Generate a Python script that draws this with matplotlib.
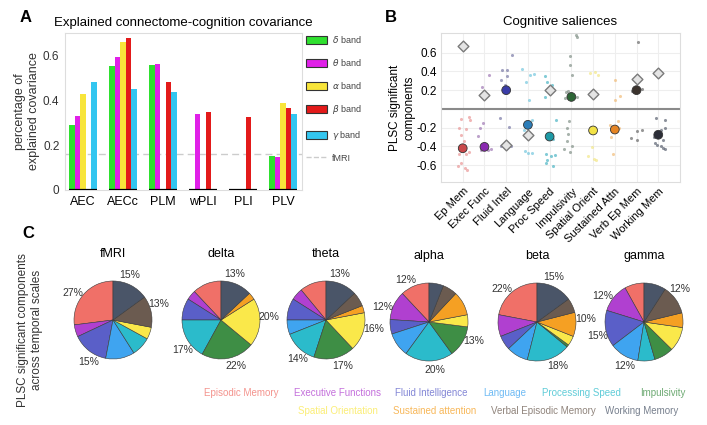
import numpy as np
import matplotlib.pyplot as plt
from matplotlib.patches import Patch
from matplotlib.lines import Line2D

plt.rcParams['font.family'] = ['Liberation Sans', 'DejaVu Sans']

# ---- panel A data
metrics = ["AEC", "AECc", "PLM", "wPLI", "PLI", "PLV"]
band_names = [r"$\delta$ band", r"$\theta$ band", r"$\alpha$ band", r"$\beta$ band", r"$\gamma$ band"]
band_colors = ["#2FE02F", "#E020E8", "#F8E53A", "#E31A1A", "#33C6F0"]
delta_cov = [0.29, 0.553, 0.557, 0, 0, 0.15]
theta_cov = [0.328, 0.595, 0.56, 0.337, 0, 0.147]
alpha_cov = [0.43, 0.658, 0, 0, 0, 0.39]
beta_cov = [0, 0.677, 0.482, 0.347, 0.327, 0.365]
gamma_cov = [0.48, 0.452, 0.435, 0, 0, 0.337]
fmri_cov = 0.16

# ---- panel B data
domains = ["Ep Mem", "Exec Func", "Fluid Intel", "Language", "Proc Speed",
           "Impulsivity", "Spatial Orient", "Sustained Attn", "Verb Ep Mem", "Working Mem"]
dom_colors = ["#F07068", "#B040D0", "#5A5FC8", "#3FA4F0", "#2BBBCB",
              "#3E8E45", "#FAE84A", "#F5A023", "#6B5B50", "#4A5568"]
mean_colors = ["#C9484A", "#8A2AB0", "#3A3CA8", "#2C7DB8", "#1E9AA6",
               "#2D6636", "#F2E246", "#E58422", "#3B332D", "#2C2E38"]
dot_colors = ["#E89090", "#9A70B0", "#7070A0", "#6CC4DC", "#40B0C0",
              "#7A8A80", "#F2E680", "#F0B870", "#606060", "#505868"]
mean_sal = [-0.42, -0.405, 0.2, -0.17, -0.295, 0.128, -0.23, -0.22, 0.2, -0.276]
fmri_sal = [0.67, 0.146, -0.38, -0.275, 0.2, np.nan, 0.164, np.nan, 0.315, 0.38]
band_off = [
    [-0.06, 0.28, 0.32, -0.15, 0.15, -0.06, 0.05, -0.15, 0.15, 0.3, -0.06, -0.2, 0.1, 0.2],
    [0.23, -0.1, -0.05, -0.2, -0.3, -0.15, 0.15, 0.3],
    [0.26, -0.18, 0.03, 0.05, -0.25, -0.05, -0.3, 0.15, -0.25, 0.2],
    [-0.25, 0.1, 0.28, -0.1, 0.05, -0.2, 0.2, -0.15, 0.0, 0.2],
    [-0.23, -0.14, 0.1, -0.23, 0.3, -0.15, 0.05, 0.23, -0.18, 0.14, -0.1, -0.14, 0.14],
    [0.22, 0.26, -0.05, -0.05, 0.05, -0.24, -0.14, -0.28, 0.28, -0.1, -0.2, -0.14, -0.2, 0.01, -0.32, -0.05],
    [-0.15, 0.1, 0.23, -0.1, -0.05, -0.25, 0.05, 0.15],
    [0, 0, 0.23, -0.23, 0.14, -0.18, -0.1, 0.2],
    [0.05, -0.23, 0.23, -0.25, 0, 0.23, 0.03],
    [-0.1, 0.3, 0.3, 0.14, -0.2, 0.23, -0.05, 0.14, 0.23, 0.3, -0.14],
]
band_sal = [
    [-0.11, -0.09, -0.12, -0.2, -0.21, -0.28, -0.34, -0.48, -0.48, -0.46, -0.575, -0.61, -0.63, -0.65],
    [0.36, 0.235, -0.15, -0.2, -0.29, -0.44, -0.44, -0.43],
    [0.57, 0.42, 0.42, 0.35, 0.31, 0.26, -0.1, -0.19, -0.4, -0.4],
    [0.43, 0.36, 0.37, 0.29, 0.1, -0.22, -0.12, -0.45, -0.47, -0.47],
    [0.35, 0.29, 0.25, 0.13, -0.115, -0.48, -0.5, -0.49, -0.575, -0.61, -0.54, -0.27, -0.32],
    [0.79, 0.77, 0.56, 0.47, 0.36, 0.18, 0.19, 0.12, 0.13, -0.13, -0.2, -0.27, -0.34, -0.395, -0.43, -0.456],
    [0.38, 0.39, 0.36, -0.19, -0.41, -0.5, -0.53, -0.55],
    [0.31, 0.1, 0.14, -0.17, -0.125, -0.3, -0.485, -0.2],
    [0.71, 0.19, 0.21, -0.31, -0.24, -0.22, -0.33],
    [-0.095, -0.12, -0.2, -0.23, -0.3, -0.33, -0.39, -0.4, -0.42, -0.43, -0.36],
]

# ---- panel C data (percent per domain, same order as domains)
scales = ["fMRI", "delta", "theta", "alpha", "beta", "gamma"]
fmri_pct = [27, 5, 15, 12, 8, 0, 5, 0, 13, 15]
delta_pct = [12, 4, 9, 0, 17, 22, 20, 3, 0, 13]
theta_pct = [11, 5, 9, 6, 14, 17, 16, 3, 6, 13]
alpha_pct = [12, 12, 6, 10, 20, 13, 5, 10, 6, 6]
beta_pct = [22, 9, 6, 9, 18, 1, 4, 10, 6, 15]
gamma_pct = [8, 12, 15, 12, 7, 8, 10, 6, 12, 9]
shown_labels = [[0, 2, 8, 9], [4, 5, 6, 9], [4, 5, 6, 9],
                [0, 1, 4, 5], [0, 4, 7, 9], [1, 2, 3, 8]]
legend_names = ["Episodic Memory", "Executive Functions", "Fluid Intelligence", "Language",
                "Processing Speed", "Impulsivity", "Spatial Orientation", "Sustained attention",
                "Verbal Episodic Memory", "Working Memory"]

W, H = 707, 425
fig = plt.figure(figsize=(W / 100, H / 100), dpi=100)


def frac(x0, y0, x1, y1):
    return [x0 / W, 1 - y1 / H, (x1 - x0) / W, (y1 - y0) / H]


# ---------------- A
axA = fig.add_axes(frac(65, 33, 302, 190))
series = [delta_cov, theta_cov, alpha_cov, beta_cov, gamma_cov]
xg = np.arange(len(metrics))
bw = 0.14
for i, vals in enumerate(series):
    axA.bar(xg + (i - 2) * bw, vals, width=bw, color=band_colors[i], linewidth=0)
axA.hlines(np.zeros(len(xg)), xg - 0.36, xg + 0.36, color="black", lw=1.6, zorder=3)
axA.axhline(fmri_cov, color="#CCCCCC", ls=(0, (5, 3)), lw=1.0, zorder=0)
axA.set_xlim(-0.45, 5.475)
axA.set_ylim(0, 0.70)
axA.set_yticks([0, 0.2, 0.4, 0.6])
axA.set_yticklabels(["0", "0.2", "0.4", "0.6"], fontsize=8.5, color="#333333")
axA.set_xticks(xg)
axA.set_xticklabels(metrics, fontsize=9)
axA.tick_params(length=0, pad=4)
for s in axA.spines.values():
    s.set_color("#DDDDDD")
axA.set_ylabel("percentage of\nexplained covariance", fontsize=9, color="#333333", labelpad=2)
axA.set_title("Explained connectome-cognition covariance", fontsize=9.5, pad=5)
handles = [Patch(facecolor=c, edgecolor="#333333", lw=0.8) for c in band_colors]
handles.append(Line2D([0], [0], color="#CCCCCC", ls="--", lw=1))
axA.legend(handles, band_names + ["fMRI"], loc="upper left", bbox_to_anchor=(1.015, 1.0),
           frameon=False, fontsize=6.5, handlelength=2.3, handleheight=1.0,
           labelspacing=1.35, borderaxespad=0, borderpad=0.1, handletextpad=0.5,
           labelcolor="#444444")
fig.text(20 / W, 1 - 17 / H, "A", fontsize=12, fontweight="bold", va="center")

# ---------------- B
axB = fig.add_axes(frac(441, 33, 680, 182))
xd = np.arange(1, len(domains) + 1)
for i in range(len(domains)):
    axB.scatter(xd[i] + np.array(band_off[i]), band_sal[i], s=5, color=dot_colors[i],
                alpha=0.65, linewidths=0, zorder=2)
axB.scatter(xd, fmri_sal, marker="D", s=30, facecolor="#E4E4E4", edgecolor="#7A7A7A",
            linewidths=1.0, zorder=3)
axB.scatter(xd, mean_sal, s=40, color=mean_colors, edgecolor="#333333", linewidths=0.6,
            zorder=4)
axB.axhline(0, color="#8A8A8A", lw=1.5, zorder=1)
axB.set_xlim(0, 11)
axB.set_ylim(-0.78, 0.81)
axB.set_yticks([-0.6, -0.4, -0.2, 0.2, 0.4, 0.6])
axB.set_yticklabels(["-0.6", "-0.4", "-0.2", "0.2", "0.4", "0.6"], fontsize=8.5)
axB.set_xticks(xd)
axB.set_xticklabels(domains, rotation=45, ha="right", rotation_mode="anchor", fontsize=8)
axB.tick_params(length=0, pad=3)
axB.grid(True, color="#EEEEEE", lw=0.8)
axB.set_axisbelow(True)
for s in axB.spines.values():
    s.set_color("#DDDDDD")
axB.set_ylabel("PLSC significant\ncomponents", fontsize=8.5, labelpad=1)
axB.set_title("Cognitive saliences", fontsize=9.5, pad=6)
fig.text(385 / W, 1 - 17 / H, "B", fontsize=12, fontweight="bold", va="center")

# ---------------- C
fig.text(22 / W, 1 - 233 / H, "C", fontsize=12, fontweight="bold", va="center")
fig.text(30 / W, 1 - 330 / H, "PLSC significant components\nacross temporal scales",
         rotation=90, fontsize=8.5, ha="center", va="center", color="#333333")
centers = [(113, 320), (221, 320), (326, 320), (429, 322), (537, 322), (644, 322)]
all_pct = [fmri_pct, delta_pct, theta_pct, alpha_pct, beta_pct, gamma_pct]
R = 39
rot = np.deg2rad(7)  # labels sit a little counter-clockwise of the wedge middle
for k, (cx, cy) in enumerate(centers):
    ax = fig.add_axes(frac(cx - R, cy - R, cx + R, cy + R))
    pct = all_pct[k]
    keep = [i for i in range(len(pct)) if pct[i] > 0]
    labels = [f"{pct[i]}%" if i in shown_labels[k] else "" for i in keep]
    wedges, texts = ax.pie([pct[i] for i in keep], colors=[dom_colors[i] for i in keep],
                           labels=labels, startangle=90, counterclock=True,
                           labeldistance=1.24,
                           wedgeprops=dict(edgecolor="#3A3A3A", linewidth=0.4),
                           textprops=dict(fontsize=7.5, color="#333333"))
    for t in texts:
        x, y = t.get_position()
        t.set_position((x * np.cos(rot) - y * np.sin(rot), x * np.sin(rot) + y * np.cos(rot)))
        t.set_ha("center")
        t.set_va("center")
    ax.set_xlim(-1, 1)
    ax.set_ylim(-1, 1)
    ax.set_title(scales[k], fontsize=9, pad=17)

row1_x = [204, 294, 395, 483, 542, 640]
row2_x = [298, 393, 491, 605]
for j, x in enumerate(row1_x):
    fig.text(x / W, 1 - 393 / H, legend_names[j], fontsize=7, color=dom_colors[j],
             alpha=0.75, va="center")
for j, x in enumerate(row2_x):
    fig.text(x / W, 1 - 411 / H, legend_names[j + 6], fontsize=7, color=dom_colors[j + 6],
             alpha=0.75, va="center")

fig.savefig("out.png", dpi=100)
